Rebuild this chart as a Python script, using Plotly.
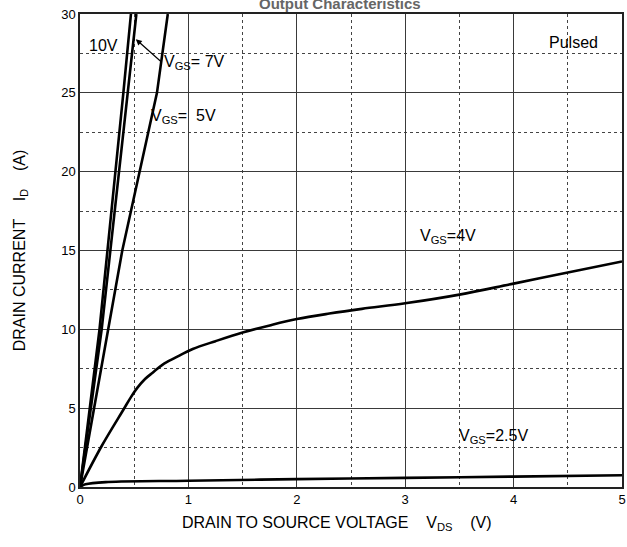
import plotly.graph_objects as go

# ---- data ----
vds_10 = [0, 0.18, 0.40, 0.47]
id_10 = [0, 10.0, 25.0, 30.0]

vds_7 = [0, 0.20, 0.44, 0.52]
id_7 = [0, 10.0, 25.0, 30.0]

vds_5 = [0, 0.26, 0.39, 0.71, 0.81]
id_5 = [0, 9.9, 15.0, 25.0, 30.0]

vds_4 = [0, 0.20, 0.40, 0.47, 0.53, 0.60, 0.67, 0.76, 0.88, 1.04, 1.25, 1.5, 1.75, 2.0, 2.3, 2.6, 3.0, 3.5, 4.0, 4.5, 5.0]
id_4 = [0, 2.6, 4.9, 5.7, 6.3, 6.85, 7.25, 7.75, 8.2, 8.75, 9.25, 9.8, 10.25, 10.65, 11.0, 11.3, 11.65, 12.2, 12.9, 13.6, 14.3]

vds_25 = [0, 0.05, 0.26, 1.0, 2.0, 3.0, 4.0, 5.0]
id_25 = [0, 0.17, 0.32, 0.40, 0.50, 0.58, 0.66, 0.75]

x_ticks = [0, 1, 2, 3, 4, 5]
y_ticks = [0, 5, 10, 15, 20, 25, 30]

FONT = "Liberation Sans, Arial, sans-serif"

fig = go.Figure()
for xs, ys, shp in [(vds_10, id_10, "linear"), (vds_7, id_7, "linear"), (vds_5, id_5, "linear"),
                    (vds_4, id_4, "spline"), (vds_25, id_25, "spline")]:
    fig.add_trace(go.Scatter(x=xs, y=ys, mode="lines",
                             line=dict(color="black", width=2.6, shape=shp, smoothing=1.0 if shp == "spline" else None),
                             showlegend=False, hoverinfo="skip"))

ann = []
def txt(x, y, t, size=16, xanchor="left"):
    ann.append(dict(x=x, y=y, xref="x", yref="y", text=t, showarrow=False, xanchor=xanchor, yanchor="middle",
                    font=dict(family=FONT, size=size, color="black")))

txt(0.06, 28.0, "10V")
txt(4.8, 28.2, "Pulsed", xanchor="right")
txt(0.76, 26.9, "V<sub>GS</sub>= 7V")
txt(0.64, 23.5, "V<sub>GS</sub>=  5V")
txt(3.12, 15.9, "V<sub>GS</sub>=4V")
txt(3.48, 3.2, "V<sub>GS</sub>=2.5V")

# arrow pointing to the 7V line
ann.append(dict(x=0.515, y=28.4, xref="x", yref="y", ax=0.76, ay=26.9, axref="x", ayref="y",
                showarrow=True, arrowhead=2, arrowsize=1, arrowwidth=1.2, arrowcolor="black", text=""))

# title, cut off at the top edge as in the reference
ann.append(dict(x=0.48, y=1, xref="paper", yref="paper", yanchor="bottom", yshift=0, showarrow=False,
                text="<b>Output Characteristics</b>", font=dict(family=FONT, size=15, color="#666")))

# x axis title (slightly left of centre, as in the reference)
ann.append(dict(x=0.474, y=0, xref="paper", yref="paper", yanchor="middle", yshift=-36, showarrow=False,
                text="DRAIN TO SOURCE VOLTAGE    V<sub>DS</sub>    (V)", font=dict(family=FONT, size=16, color="black")))

fig.update_layout(
    width=627, height=547,
    margin=dict(l=80, r=5, t=14, b=60),
    paper_bgcolor="white", plot_bgcolor="white",
    annotations=ann,
    font=dict(family=FONT, size=13, color="black"),
    xaxis=dict(range=[0, 5], tickvals=x_ticks, ticks="", showline=True, linecolor="#222", linewidth=1.5, mirror=True,
               showgrid=True, gridcolor="#3a3a3a", gridwidth=1.3, zeroline=False, automargin=False,
               minor=dict(dtick=0.5, tick0=0, showgrid=True, gridcolor="#444", griddash="dot", gridwidth=1.3),
               tickfont=dict(family=FONT, size=13)),
    yaxis=dict(range=[0, 30], tickvals=y_ticks, ticks="", showline=True, linecolor="#222", linewidth=1.5, mirror=True,
               showgrid=True, gridcolor="#3a3a3a", gridwidth=1.3, zeroline=False, automargin=False,
               minor=dict(dtick=2.5, tick0=0, showgrid=True, gridcolor="#444", griddash="dot", gridwidth=1.3),
               title=dict(text="DRAIN CURRENT    I<sub>D</sub>    (A)", font=dict(family=FONT, size=16), standoff=32),
               tickfont=dict(family=FONT, size=13)),
)

fig.write_html("out.html")
